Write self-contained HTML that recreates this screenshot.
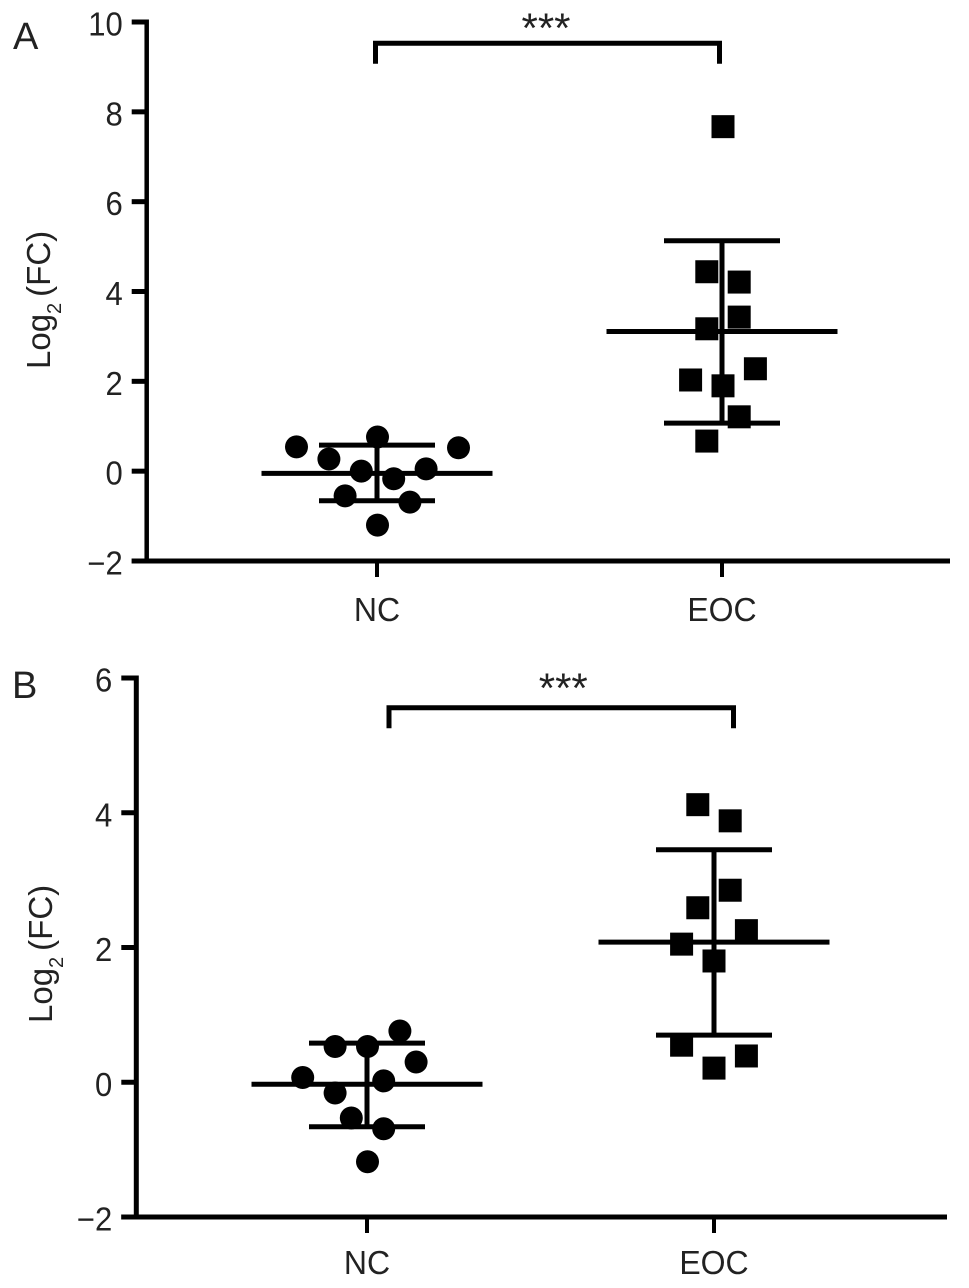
<!DOCTYPE html>
<html lang="en">
<head>
<meta charset="utf-8">
<title>Log2 fold change in NC and EOC groups</title>
<style>
html,body{margin:0;padding:0;background:#fff;}
svg{display:block;}
text{font-family:"Liberation Sans",Arial,sans-serif;fill:#222;}
</style>
</head>
<body>
<svg id="figure" xmlns="http://www.w3.org/2000/svg" width="969" height="1288" viewBox="0 0 969 1288"></svg>
<script>
const categories = ['NC', 'EOC'];

const panelATicks = [-2, 0, 2, 4, 6, 8, 10];
const panelANC = [0.54, 0.27, 0.76, 0.52, 0.00, 0.05, -0.17, -0.55, -0.69, -1.20];
const panelANCSlots = [-5, -3, 0, 5, -1, 3, 1, -2, 2, 0];
const panelAEOC = [7.67, 4.44, 4.21, 3.43, 3.17, 2.28, 2.03, 1.90, 1.21, 0.67];
const panelAEOCSlots = [0, -1, 1, 1, -1, 2, -2, 0, 1, -1];
const panelAMeans = [-0.05, 3.11];
const panelAUpper = [0.58, 5.13];
const panelALower = [-0.66, 1.07];

const panelBTicks = [-2, 0, 2, 4, 6];
const panelBNC = [0.76, 0.53, 0.53, 0.30, 0.07, 0.02, -0.16, -0.53, -0.69, -1.18];
const panelBNCSlots = [2, -2, 0, 3, -4, 1, -2, -1, 1, 0];
const panelBEOC = [4.12, 3.88, 2.85, 2.59, 2.25, 2.05, 1.80, 0.55, 0.39, 0.21];
const panelBEOCSlots = [-1, 1, 1, -1, 2, -2, 0, -2, 2, 0];
const panelBMeans = [-0.03, 2.08];
const panelBUpper = [0.58, 3.45];
const panelBLower = [-0.66, 0.70];

const svg = document.getElementById('figure');
const NS = 'http://www.w3.org/2000/svg';

function make(tag, attrs, parent, name) {
  const el = document.createElementNS(NS, tag);
  for (const k in attrs) el.setAttribute(k, attrs[k]);
  
  
  parent.appendChild(el);
  return el;
}

function line(parent, x1, y1, x2, y2, name, w) {
  return make('line', {x1: x1, y1: y1, x2: x2, y2: y2, stroke: '#000', 'stroke-width': w || 5}, parent, name);
}

function drawPanel(cfg) {
  const g = make('g', {}, svg, 'panel-' + cfg.id);
  const yScale = v => cfg.yTop + (cfg.yMax - v) * (cfg.yBottom - cfg.yTop) / (cfg.yMax - cfg.yMin);
  const xScale = i => cfg.xNC + i * (cfg.xEOC - cfg.xNC);
  const slotWidth = 16.2 / (cfg.xEOC - cfg.xNC);

  const letter = make('text', {x: cfg.letterX, y: cfg.letterY, 'font-size': 38}, g, 'panel-label');
  letter.textContent = cfg.label;

  line(g, cfg.axisX, yScale(cfg.yMax) - 2.5, cfg.axisX, yScale(cfg.yMin) + 2.5, 'y-axis-line', cfg.axisWidth);
  line(g, cfg.axisX - 15, yScale(cfg.yMin), cfg.axisRight, yScale(cfg.yMin), 'x-axis-line');

  cfg.ticks.forEach(t => {
    line(g, cfg.axisX - 15, yScale(t), cfg.axisX, yScale(t), 'y-tick-' + t);
    const lab = make('text', {transform: 'translate(' + (cfg.axisX - 24) + ' ' + (yScale(t) + 13.5) + ') scale(0.94 1)', 'font-size': 33, 'text-anchor': 'end'}, g, 'y-tick-label');
    lab.textContent = (t < 0 ? '\u2212' : '') + Math.abs(t);
  });

  categories.forEach((c, i) => {
    line(g, xScale(i), yScale(cfg.yMin), xScale(i), yScale(cfg.yMin) + 16, 'x-tick-' + c.toLowerCase(), 4);
    const lab = make('text', {transform: 'translate(' + xScale(i) + ' ' + cfg.catLabelY + ') scale(0.97 1)', 'font-size': 33, 'text-anchor': 'middle'}, g, 'x-tick-label');
    lab.textContent = c;
  });

  const cx = cfg.yLabelX, cy = cfg.yLabelY;
  const title = make('text', {x: cx, y: cy, 'font-size': 33, transform: 'rotate(-90 ' + cx + ' ' + cy + ')'}, g, 'y-axis-title');
  const t1 = document.createElementNS(NS, 'tspan');
  t1.textContent = 'Log';
  
  
  title.appendChild(t1);
  const t2 = document.createElementNS(NS, 'tspan');
  t2.textContent = '2';
  t2.setAttribute('font-size', '20');
  t2.setAttribute('dy', '11');
  
  
  title.appendChild(t2);
  const t3 = document.createElementNS(NS, 'tspan');
  t3.textContent = '(FC)';
  t3.setAttribute('dy', '-11');
  t3.setAttribute('dx', '6');
  
  
  title.appendChild(t3);

  categories.forEach((c, i) => {
    const name = c.toLowerCase();
    const x = xScale(i);
    line(g, x, yScale(cfg.upper[i]), x, yScale(cfg.lower[i]), 'error-bar-' + name);
    line(g, x - 115.5, yScale(cfg.means[i]), x + 115.5, yScale(cfg.means[i]), 'mean-line-' + name);
    line(g, x - 58, yScale(cfg.upper[i]), x + 58, yScale(cfg.upper[i]), 'upper-cap-' + name);
    line(g, x - 58, yScale(cfg.lower[i]), x + 58, yScale(cfg.lower[i]), 'lower-cap-' + name);
  });

  cfg.nc.forEach((v, k) => {
    make('circle', {cx: xScale(0 + cfg.ncSlots[k] * slotWidth) + 0.5, cy: yScale(v), r: 11.5}, g, 'nc-point').setAttribute('fill', '#000');
  });
  cfg.eoc.forEach((v, k) => {
    make('rect', {x: xScale(1 + cfg.eocSlots[k] * slotWidth) + cfg.squareShift - 11.5, y: yScale(v) - 11.5, width: 23, height: 23}, g, 'eoc-point').setAttribute('fill', '#000');
  });

  const bx1 = xScale(0) + cfg.bracketLeft;
  const bx2 = xScale(1) + cfg.bracketRight;
  make('path', {d: 'M' + bx1 + ' ' + (cfg.bracketY + 20.5) + 'V' + cfg.bracketY + 'H' + bx2 + 'V' + (cfg.bracketY + 20.5), fill: 'none', stroke: '#000', 'stroke-width': 5}, g, 'significance-bracket');
  const stars = make('text', {x: (bx1 + bx2) / 2 + cfg.starShift, y: cfg.bracketY + cfg.starLift, 'font-size': 42, 'text-anchor': 'middle'}, g, 'significance-stars');
  stars.textContent = '***';
}

drawPanel({
  id: 'a', label: 'A', letterX: 13, letterY: 49,
  yMin: -2, yMax: 10, yTop: 22, yBottom: 561,
  xNC: 377, xEOC: 722, axisX: 146.7, axisWidth: 4.5, axisRight: 950,
  catLabelY: 621, yLabelX: 50, yLabelY: 369, squareShift: 1,
  ticks: panelATicks, nc: panelANC, ncSlots: panelANCSlots, eoc: panelAEOC, eocSlots: panelAEOCSlots,
  means: panelAMeans, upper: panelAUpper, lower: panelALower,
  bracketY: 43.3, bracketLeft: -1.5, bracketRight: -2.5, starShift: -1.5, starLift: -1
});

drawPanel({
  id: 'b', label: 'B', letterX: 12, letterY: 698,
  yMin: -2, yMax: 6, yTop: 678, yBottom: 1217,
  xNC: 367, xEOC: 714, axisX: 136.3, axisWidth: 5, axisRight: 947,
  catLabelY: 1274, yLabelX: 52, yLabelY: 1023, squareShift: 0,
  ticks: panelBTicks, nc: panelBNC, ncSlots: panelBNCSlots, eoc: panelBEOC, eocSlots: panelBEOCSlots,
  means: panelBMeans, upper: panelBUpper, lower: panelBLower,
  bracketY: 707.7, bracketLeft: 22, bracketRight: 19.5, starShift: 2, starLift: -5
});
</script>
</body>
</html>
